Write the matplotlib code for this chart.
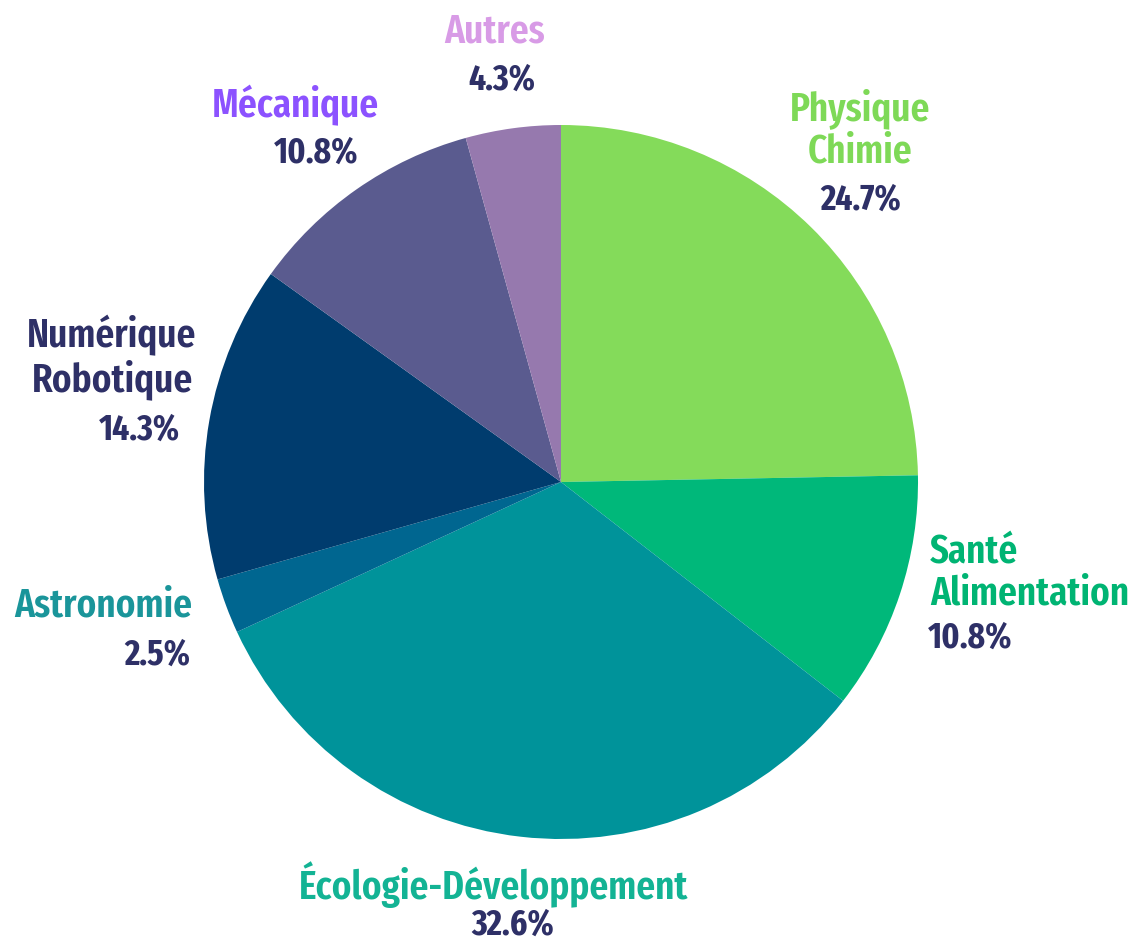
import matplotlib
matplotlib.use("Agg")
import matplotlib.pyplot as plt

categories = ["Physique\nChimie", "Santé\nAlimentation", "Écologie-Développement",
              "Astronomie", "Numérique\nRobotique", "Mécanique", "Autres"]
values = [24.7, 10.8, 32.6, 2.5, 14.3, 10.8, 4.3]
wedge_colors = ["#84DB5A", "#00B87A", "#00939A", "#006690", "#003C6E", "#5A5B8F", "#9679AE"]
label_colors = ["#7ED957", "#00B473", "#13B394", "#1A959A", "#2E3067", "#8C52FF", "#D89BE6"]
pct_color = "#2E3067"

W, H = 1137, 944
CX, CY, R = 561, 482, 357
FAMILY = ["Fira Sans Extra Condensed", "DejaVu Sans"]

fig = plt.figure(figsize=(W / 100, H / 100), dpi=100)
ax = fig.add_axes([0, 0, 1, 1])

ax.pie(values, colors=wedge_colors, startangle=90, counterclock=False,
       radius=1.0, center=(0, 0), frame=True,
       wedgeprops=dict(linewidth=0))
ax.set_xlim(-CX / R, (W - CX) / R)
ax.set_ylim(-(H - CY) / R, CY / R)
ax.set_aspect("auto")
ax.axis("off")


def px(x, y):
    return (x - CX) / R, (CY - y) / R

# layout: (label x, label y, label ha, pct x, pct y, pct ha) in pixels
layout = [
    (860, 130, "center", 861, 200, "center"),
    (930, 573, "left", 928, 638, "left"),
    (494, 885, "center", 513, 925, "center"),
    (192, 606, "right", 190, 655, "right"),
    (112, 357, "center", 139, 430, "center"),
    (295, 105, "center", 316, 153, "center"),
    (495, 32, "center", 502, 80, "center"),
]

for cat, val, col, (lx, ly, lha, qx, qy, qha) in zip(categories, values, label_colors, layout):
    x, y = px(lx, ly)
    ax.text(x, y, cat, color=col, ha=lha, va="center", fontsize=29,
            fontweight=600, family=FAMILY, linespacing=1.1,
            multialignment="center" if lha == "center" else lha)
    x, y = px(qx, qy)
    ax.text(x, y, f"{val:.1f}%", color=pct_color, ha=qha, va="center", fontsize=26,
            fontweight=700, family=FAMILY)

fig.savefig("out.png", dpi=100)
